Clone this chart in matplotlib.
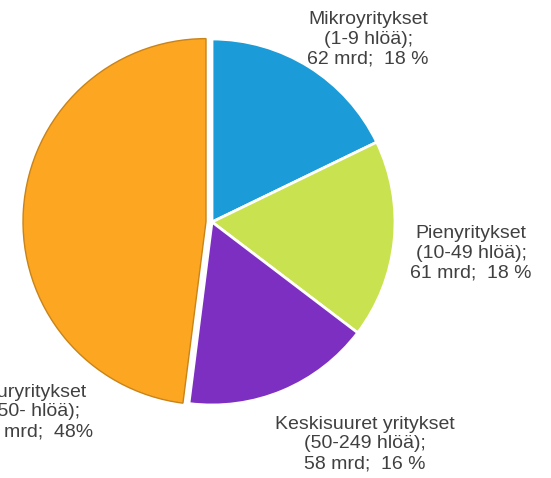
import matplotlib.pyplot as plt

plt.rcParams['font.family'] = ['Liberation Sans', 'DejaVu Sans']

labels = [
    "Mikroyritykset\n(1-9 hlöä);\n62 mrd;  18 %",
    "Pienyritykset\n(10-49 hlöä);\n61 mrd;  18 %",
    "Keskisuuret yritykset\n(50-249 hlöä);\n58 mrd;  16 %",
    "Suuryritykset\n(250- hlöä);\n167 mrd;  48%",
]
values = [62, 61, 58, 167]
colors = ["#1b9bd7", "#c9e24f", "#7d2fc2", "#fca622"]
explode = [0, 0, 0, 6]
# label anchor points (pixel layout, y from top)
label_pos = [(368, 39), (471, 253), (365, 444), (30, 412)]

W, H = 551, 478
fig = plt.figure(figsize=(W / 100, H / 100), dpi=100)
ax = fig.add_axes([0, 0, 1, 1])

wedges, _ = ax.pie(values, colors=colors, startangle=90, counterclock=False,
                   explode=explode, center=(212, H - 222), radius=183,
                   wedgeprops=dict(edgecolor="white", linewidth=2))
wedges[3].set_edgecolor("#c98418")
wedges[3].set_linewidth(1)
ax.set_xlim(0, W)
ax.set_ylim(0, H)
ax.set_aspect("auto")
ax.axis("off")

for txt, (x, y) in zip(labels, label_pos):
    ax.text(x, H - y, txt, ha="center", va="center", fontsize=14,
            color="#404040", linespacing=1.2)

fig.savefig("out.png", dpi=100)
